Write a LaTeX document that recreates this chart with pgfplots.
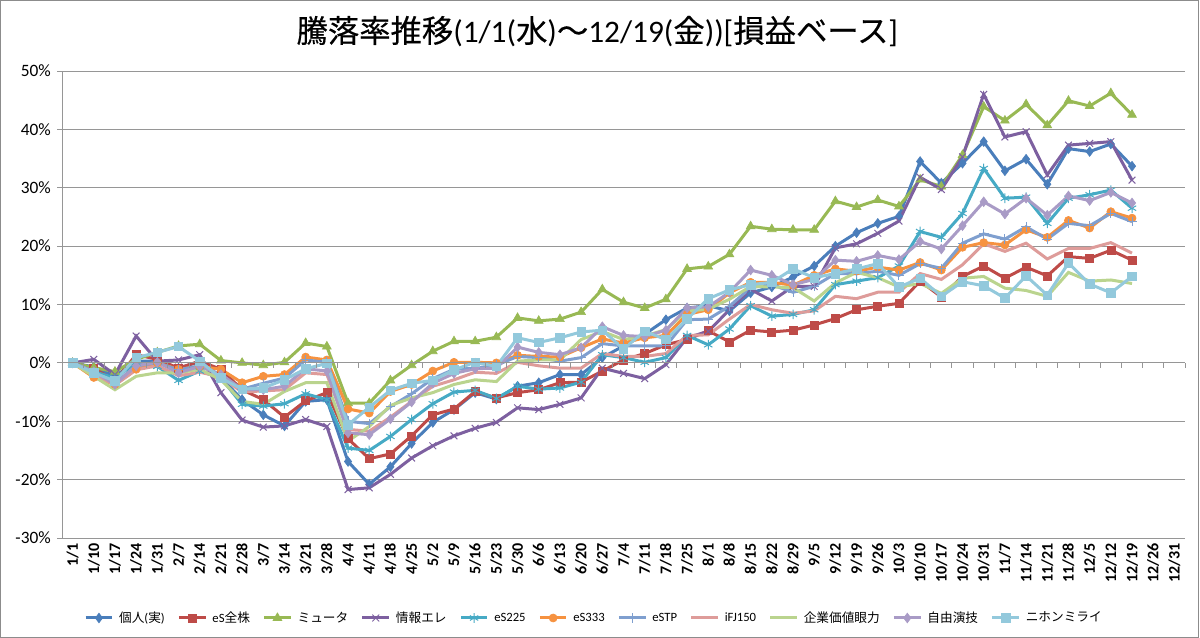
\documentclass[border=0pt]{standalone}
\usepackage{pgfplots}
\pgfplotsset{compat=1.18}
\usepackage{pgfplotstable}
\usepackage{fontspec}
\setmainfont{Carlito}
\newfontfamily\cjk{Noto Sans CJK JP}
\newfontfamily\cjkb[FakeBold=0.4]{Noto Sans CJK JP}
\definecolor{c1}{HTML}{4A7EBB}
\definecolor{c2}{HTML}{BE4B48}
\definecolor{c3}{HTML}{98B954}
\definecolor{c4}{HTML}{7D60A0}
\definecolor{c5}{HTML}{46AAC5}
\definecolor{c6}{HTML}{F69240}
\definecolor{c7}{HTML}{7F9FCF}
\definecolor{c8}{HTML}{DE9C9A}
\definecolor{c9}{HTML}{BAD48E}
\definecolor{c10}{HTML}{A99BC6}
\definecolor{c11}{HTML}{93C9DC}
\definecolor{gridc}{HTML}{969696}
\definecolor{borderc}{HTML}{8C8C8C}
\pgfplotstableread{
i a b c d e f g h k l m
0 0 0 0 0 0 0 0 0 0 0 0
1 -0.7 -0.9 -0.8 0.6 -1.5 -2.5 -1.5 -2.0 -2.3 -1.5 -1.7
2 -2.3 -3.1 -1.5 -2.0 -2.6 -3.7 -3.5 -3.8 -4.6 -3.7 -3.1
3 0.3 1.4 0.6 4.6 0.0 -1.1 -0.5 -1.2 -2.3 -0.5 0.9
4 0.3 0.6 1.8 0.3 -0.6 0.0 0.0 -0.5 -1.7 0.1 1.8
5 -0.9 -0.9 2.9 0.5 -3.0 -1.1 -1.2 -2.2 -1.7 -1.7 2.8
6 0.2 0.3 3.2 1.4 -1.4 -0.6 -0.5 -1.6 -1.1 -0.6 0.3
7 -2.5 -1.1 0.4 -5.1 -2.6 -1.1 -2.0 -2.4 -2.9 -2.0 -2.6
8 -6.3 -4.6 0.0 -9.8 -7.1 -3.4 -4.5 -5.0 -6.6 -4.6 -4.5
9 -8.9 -6.3 -0.4 -11.0 -7.4 -2.3 -3.5 -4.8 -7.1 -4.6 -4.3
10 -10.8 -9.3 0.1 -10.8 -7.0 -2.0 -2.6 -4.6 -4.9 -4.0 -2.9
11 -6.6 -6.5 3.4 -9.7 -5.3 1.0 0.5 -1.7 -3.4 -1.0 -1.0
12 -6.3 -5.1 2.8 -10.9 -6.3 0.5 0.1 -2.0 -3.4 -1.4 -0.1
13 -16.9 -13.0 -6.9 -21.7 -14.6 -7.9 -10.0 -11.4 -13.4 -12.0 -10.6
14 -20.8 -16.4 -6.9 -21.4 -15.0 -8.6 -10.4 -11.7 -10.9 -12.3 -7.6
15 -17.8 -15.6 -3.0 -19.1 -12.6 -4.9 -7.5 -9.3 -7.3 -9.6 -4.7
16 -13.8 -12.5 -0.4 -16.3 -9.7 -3.7 -5.3 -6.6 -6.0 -6.7 -3.5
17 -10.2 -8.9 2.0 -14.2 -7.0 -1.4 -2.7 -4.0 -5.1 -3.5 -3.0
18 -8.0 -7.9 3.7 -12.5 -5.0 0.1 -1.1 -2.9 -3.7 -1.8 -1.2
19 -5.1 -4.9 3.7 -11.2 -4.7 0.1 -0.9 -1.6 -2.9 -1.0 0.1
20 -6.2 -6.0 4.4 -10.2 -6.1 0.0 -0.4 -1.8 -3.2 -0.9 -0.6
21 -4.0 -5.1 7.7 -7.7 -4.0 1.3 1.1 0.1 0.3 2.7 4.3
22 -3.4 -4.6 7.2 -8.0 -4.5 1.1 0.9 -0.5 0.5 1.8 3.5
23 -2.0 -3.4 7.5 -7.1 -4.3 1.0 0.3 -0.9 0.5 1.4 4.3
24 -2.0 -3.3 8.7 -6.0 -3.3 2.6 0.9 -0.9 4.0 2.6 5.3
25 0.9 -1.4 12.6 -0.9 1.4 4.1 3.3 1.6 5.4 6.2 5.6
26 2.9 0.5 10.4 -1.8 0.9 3.4 2.9 1.1 4.0 4.7 2.4
27 4.9 1.6 9.4 -2.7 0.1 4.3 2.9 1.1 4.6 4.5 5.4
28 7.4 3.1 10.9 -0.3 0.9 4.7 2.9 1.6 5.7 5.6 4.0
29 9.4 4.0 16.1 4.3 4.7 8.3 7.4 4.7 8.9 9.4 7.5
30 9.8 5.5 16.5 5.4 3.1 9.1 7.5 4.8 9.2 9.6 11.0
31 8.9 3.6 18.6 9.1 5.8 12.0 9.7 7.5 10.9 12.1 12.5
32 12.0 5.6 23.4 12.6 9.8 13.8 12.9 10.0 13.1 15.9 13.4
33 13.0 5.3 22.9 10.6 8.0 13.8 13.4 9.1 13.0 15.0 13.8
34 14.7 5.6 22.8 13.1 8.3 13.3 12.1 8.5 12.9 13.4 16.1
35 16.6 6.5 22.8 13.1 9.1 15.0 13.1 8.9 10.6 14.3 14.6
36 20.0 7.6 27.7 19.7 13.4 16.1 15.3 11.4 13.7 17.6 15.3
37 22.3 9.1 26.7 20.4 14.0 15.7 15.3 11.0 15.5 17.4 16.1
38 23.9 9.7 27.9 22.2 14.6 16.4 15.7 12.1 14.6 18.4 17.0
39 25.1 10.2 26.8 24.3 16.6 15.9 15.0 12.1 13.0 17.7 13.0
40 34.5 14.0 31.4 31.8 22.5 17.2 17.0 15.3 13.6 20.8 14.5
41 30.8 11.3 30.2 29.7 21.5 15.9 16.2 14.3 11.9 19.5 11.4
42 34.2 14.8 35.6 35.3 25.6 19.8 20.5 16.8 14.5 23.5 13.9
43 37.9 16.6 43.9 46.0 33.3 20.6 22.1 20.4 14.8 27.6 13.2
44 32.9 14.5 41.5 38.7 28.2 20.2 21.2 19.1 12.8 25.5 11.1
45 34.9 16.4 44.3 39.6 28.4 22.8 23.3 20.5 12.4 28.2 14.9
46 30.6 14.9 40.7 32.2 23.9 21.5 21.2 17.8 11.4 25.3 11.6
47 36.7 18.2 44.9 37.3 28.2 24.4 23.9 19.6 15.5 28.6 17.1
48 36.2 17.9 44.0 37.6 28.8 23.1 23.5 19.6 14.0 27.8 13.5
49 37.5 19.3 46.2 37.9 29.6 25.9 25.6 20.6 14.2 29.2 12.0
50 33.7 17.6 42.5 31.3 26.5 24.8 24.2 18.8 13.6 27.4 14.8
}\data
\begin{document}
\begin{tikzpicture}[x=1pt,y=1pt]
\useasboundingbox (0,0) rectangle (900,-478.5);
\draw[borderc, line width=0.75pt] (0.4,-0.4) rectangle (898.9,-477.9);
\node[font=\fontsize{23.5}{28}\selectfont, inner sep=0pt] at (448,-23.5)
  {{\cjkb 騰落率推移}(1/1({\cjkb 水}){\cjkb ～}12/19({\cjkb 金}))[{\cjkb 損益ベース}]};
\begin{axis}[
  at={(46.5pt,-403.5pt)}, anchor=south west,
  scale only axis, width=842.25pt, height=350.25pt,
  xmin=-0.5, xmax=52.5, ymin=-30, ymax=50,
  axis x line*=bottom, axis y line*=left,
  x axis line style={draw=none},
  y axis line style={gridc, line width=0.75pt},
  ymajorgrids, major grid style={gridc, line width=0.75pt},
  tick align=outside, major tick length=3.75pt,
  ytick={-30,-20,...,50},
  yticklabels={-30\%,-20\%,-10\%,0\%,10\%,20\%,30\%,40\%,50\%},
  ytick style={gridc, line width=0.75pt},
  yticklabel style={font=\fontsize{13}{15}\selectfont, inner sep=0pt, xshift=-4.5pt},
  xtick={0,1,...,52},
  xticklabels={1/1,1/10,1/17,1/24,1/31,2/7,2/14,2/21,2/28,3/7,3/14,3/21,3/28,4/4,4/11,4/18,4/25,5/2,5/9,5/16,5/23,5/30,6/6,6/13,6/20,6/27,7/4,7/11,7/18,7/25,8/1,8/8,8/15,8/22,8/29,9/5,9/12,9/19,9/26,10/3,10/10,10/17,10/24,10/31,11/7,11/14,11/21,11/28,12/5,12/12,12/19,12/26,12/31},
  xtick style={draw=none},
  xticklabel style={rotate=90, anchor=east, inner sep=0pt, font=\bfseries\fontsize{12}{14}\selectfont},
  legend columns=11,
  legend style={at={(0.474,-0.1713)}, anchor=center, draw=none, fill=none,
    font=\fontsize{9.5}{11}\selectfont,
    /tikz/every odd column/.append style={column sep=2pt},
    /tikz/every even column/.append style={column sep=7.5pt}},
  legend image code/.code={\draw[mark repeat=2,mark phase=2,#1] plot coordinates {(0pt,0pt) (10pt,0pt) (20pt,0pt)};},
  every axis plot/.append style={line width=2.25pt},
]
\addplot[c1, mark=diamond*, mark size=3.6pt, mark options={solid, line width=0.5pt, fill=c1}] table[x=i,y=a]{\data};
\addlegendentry{{\cjk 個人}({\cjk 実})}
\addplot[c2, mark=square*, mark size=3pt, mark options={solid, line width=0.5pt, fill=c2}] table[x=i,y=b]{\data};
\addlegendentry{eS{\cjk 全株}}
\addplot[c3, mark=triangle*, mark size=3.8pt, mark options={solid, line width=0.5pt, fill=c3}] table[x=i,y=c]{\data};
\addlegendentry{{\cjk ミュータ}}
\addplot[c4, mark=x, mark size=3.6pt, mark options={solid, line width=0.75pt}] table[x=i,y=d]{\data};
\addlegendentry{{\cjk 情報エレ}}
\addplot[c5, mark=asterisk, mark size=3.6pt, mark options={solid, line width=0.75pt}] table[x=i,y=e]{\data};
\addlegendentry{eS225}
\addplot[c6, mark=*, mark size=3pt, mark options={solid, line width=0.5pt, fill=c6}] table[x=i,y=f]{\data};
\addlegendentry{eS333}
\addplot[c7, mark=+, mark size=3.6pt, mark options={solid, line width=0.75pt}] table[x=i,y=g]{\data};
\addlegendentry{eSTP}
\addplot[c8, no marks] table[x=i,y=h]{\data};
\addlegendentry{iFJ150}
\addplot[c9, no marks] table[x=i,y=k]{\data};
\addlegendentry{{\cjk 企業価値眼力}}
\addplot[c10, mark=diamond*, mark size=3.6pt, mark options={solid, line width=0.5pt, fill=c10}] table[x=i,y=l]{\data};
\addlegendentry{{\cjk 自由演技}}
\addplot[c11, mark=square*, mark size=3.2pt, mark options={solid, line width=0.5pt, fill=c11}] table[x=i,y=m]{\data};
\addlegendentry{{\cjk ニホンミライ}}
\end{axis}
\begin{axis}[
  at={(46.5pt,-403.5pt)}, anchor=south west,
  scale only axis, width=842.25pt, height=350.25pt,
  xmin=-0.5, xmax=52.5, ymin=-30, ymax=50,
  axis x line*=middle, axis y line=none,
  xtick={-0.5,0.5,...,52.5}, xticklabels={}, ytick=\empty,
  tick align=outside, major tick length=3.75pt,
  xtick style={gridc, line width=0.75pt},
  x axis line style={gridc, line width=0.75pt},
]
\addplot[draw=none] coordinates {(0,0)};
\end{axis}
\end{tikzpicture}
\end{document}
